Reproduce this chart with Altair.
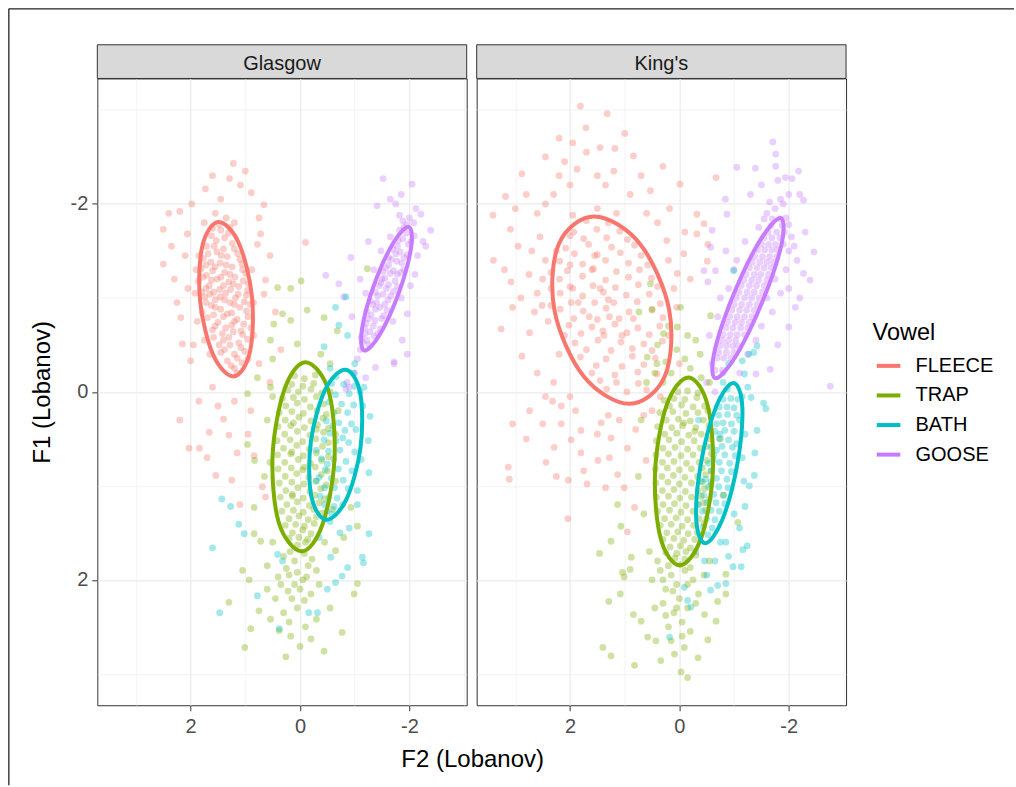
import altair as alt
import pandas as pd

CITIES = ["Glasgow", "King's"]
VOWELS = ["FLEECE", "TRAP", "BATH", "GOOSE"]
COLORS = ["#F8766D", "#7CAE00", "#00BFC4", "#C77CFF"]
AXIS_VALUES = [-3, -2, -1, 0, 1, 2, 3]
X_DOMAIN = [-3.048, 3.707]
Y_DOMAIN = [-3.335, 3.335]

# ---------------- points (F2, F1) ----------------
GLA_FLEECE = [
    (1.45,-1.72),(1.62,-1.66),(1.31,-1.69),(1.24,-1.58),(1.53,-1.61),(1.71,-1.55),(1.40,-1.52),(1.14,-1.47),
    (1.33,-1.44),(1.52,-1.49),(1.77,-1.42),(1.63,-1.38),(1.06,-1.36),(1.24,-1.33),(1.46,-1.37),(1.60,-1.29),
    (1.81,-1.31),(0.99,-1.26),(1.19,-1.22),(1.38,-1.27),(1.52,-1.20),(1.71,-1.24),(1.86,-1.18),(0.94,-1.15),
    (1.12,-1.12),(1.30,-1.17),(1.47,-1.09),(1.66,-1.13),(1.80,-1.06),(0.98,-1.03),(1.18,-1.00),(1.36,-1.05),
    (1.55,-0.98),(1.74,-1.01),(0.91,-0.93),(1.10,-0.90),(1.28,-0.95),(1.45,-0.88),(1.62,-0.92),(1.79,-0.85),
    (0.95,-0.80),(1.15,-0.77),(1.33,-0.83),(1.50,-0.74),(1.69,-0.79),(0.90,-0.68),(1.08,-0.65),(1.25,-0.71),
    (1.42,-0.62),(1.60,-0.66),(0.96,-0.56),(1.12,-0.52),(1.30,-0.58),(1.48,-0.50),(1.01,-0.43),(1.20,-0.40),
    (1.38,-0.45),(1.06,-0.31),(1.26,-0.28),(1.15,-0.20),(1.35,-1.85),(1.55,-1.90),(1.20,-1.80),(1.75,-1.80),
    (1.22,-2.43),(1.29,-2.27),(1.09,-2.20),(1.73,-2.16),(0.89,-2.12),(0.66,-1.99),(2.50,-1.73),(2.20,-1.92),
    (2.50,-1.36),(2.06,-1.68),(0.72,-1.68),(0.78,-1.57),(-0.10,-1.59),(0.63,-1.19),(0.66,-1.04),(2.15,-0.51),
    (2.18,-0.79),(2.00,-0.33),(2.03,0.60),(1.84,0.60),(1.54,0.89),(1.25,0.94),(1.10,1.20),(1.66,0.43),
    (1.40,0.29),(1.30,0.46),(0.84,0.68),(0.69,1.01),(0.63,1.12),(1.98,-2.00),(1.45,-2.05),(2.30,-1.20),
    (2.05,-1.10),(1.95,-0.50),(0.75,-0.30),(0.55,-0.10),(1.60,-0.05),(1.85,0.10),(0.90,0.20),(1.20,0.10),
]
GLA_FLEECE_MORE = [
    (1.38,-1.64),(1.57,-1.55),(1.20,-1.52),(1.44,-1.45),(1.68,-1.47),(1.10,-1.41),(1.35,-1.35),(1.55,-1.33),
    (1.72,-1.35),(1.05,-1.30),(1.28,-1.25),(1.45,-1.22),(1.62,-1.19),(1.78,-1.22),(1.04,-1.18),(1.22,-1.15),
    (1.40,-1.13),(1.58,-1.06),(1.72,-1.10),(0.96,-1.08),(1.13,-1.04),(1.27,-1.09),(1.46,-1.01),(1.65,-1.04),
    (1.02,-0.96),(1.20,-0.93),(1.38,-0.98),(1.55,-0.90),(1.72,-0.95),(0.98,-0.86),(1.25,-0.84),(1.40,-0.80),
    (1.58,-0.82),(1.03,-0.72),(1.20,-0.75),(1.36,-0.68),(1.55,-0.70),(1.05,-0.61),(1.22,-0.64),(1.40,-0.55),
    (1.58,-0.58),(1.08,-0.47),(1.28,-0.50),(1.45,-0.42),(1.15,-0.36),(1.33,-0.33),(1.20,-0.25),(1.48,-1.78),
    (1.28,-1.75),(1.60,-1.74),(1.85,-1.45),(1.90,-1.30),(1.92,-1.05),(1.88,-0.75),(0.88,-1.30),(0.85,-0.95),
    (0.85,-0.60),(1.75,-0.55),(1.65,-0.40),(0.95,-0.35),(2.35,-1.55),(2.25,-0.95),(2.10,-1.45),(0.75,-1.85),
    (0.55,-1.45),(0.45,-0.85),(0.35,-0.45),(2.40,-1.90),(1.00,-2.35),(1.60,-2.30),(1.15,0.65),(1.70,0.70),
    (0.95,0.45),(2.20,0.30),(1.50,0.15),
]
GLA_TRAP = [
    (0.10,-0.17),(-0.08,-0.14),(-0.28,-0.18),(0.22,-0.02),(0.03,0.00),(-0.20,-0.03),(-0.40,0.01),
    (0.26,0.15),(0.05,0.12),(-0.19,0.16),(-0.43,0.13),(0.27,0.30),(0.02,0.27),(-0.20,0.31),(-0.42,0.28),
    (0.12,0.33),(0.28,0.45),(0.05,0.42),(-0.18,0.46),(-0.43,0.43),(-0.30,0.40),(0.30,0.60),(0.06,0.57),
    (-0.17,0.61),(-0.41,0.58),(0.15,0.64),(0.28,0.75),(0.03,0.72),(-0.19,0.76),(-0.40,0.73),(-0.08,0.80),
    (0.27,0.90),(0.06,0.87),(-0.16,0.91),(-0.39,0.88),(0.26,1.05),(0.04,1.02),(-0.18,1.06),(-0.38,1.03),
    (0.14,1.09),(0.24,1.20),(0.05,1.17),(-0.17,1.21),(-0.35,1.18),(0.20,1.35),(0.02,1.32),(-0.15,1.36),
    (-0.30,1.33),(0.14,1.50),(-0.05,1.47),(-0.20,1.51),(0.05,1.63),(-0.10,1.60),(0.10,1.80),(-0.15,1.85),
    (0.20,1.95),(-0.05,2.00),(0.30,1.75),(-0.30,1.90),(0.00,2.10),(0.15,2.20),(-0.20,2.15),(0.35,2.05),
    (0.41,-1.11),(-0.02,-1.18),(-1.23,-1.31),(0.17,-1.10),(0.32,-0.83),(0.17,-0.76),(-0.13,-0.87),(-0.44,-0.79),
    (-0.68,-0.65),(0.48,-0.72),(0.54,-0.55),(0.05,-0.51),(-0.38,-0.40),(0.78,-0.15),(0.96,0.02),(0.54,-0.05),
    (0.84,1.23),(0.83,0.73),(0.96,0.56),(0.84,1.51),(0.72,1.59),(-1.05,1.43),(-0.93,1.23),(-0.80,1.55),
    (-0.65,1.69),(0.26,2.82),(1.01,2.72),(-0.44,2.76),(0.00,2.71),(-0.77,2.56),(0.90,2.52),(1.30,2.24),
    (0.93,2.00),(1.05,1.90),(-1.05,2.04),(-0.99,2.15),(0.75,2.33),(0.54,2.42),(0.17,2.60),(-0.20,2.63),
    (0.38,2.54),(0.60,0.30),(0.65,0.90),(-0.70,0.20),(-0.65,0.95),(0.50,-0.35),(-0.55,-0.30),(0.60,1.85),
    (-0.55,2.30),(0.30,2.35),
]
GLA_TRAP_MORE = [
    (0.15,-0.08),(-0.05,-0.06),(-0.25,-0.09),(0.32,0.07),(0.12,0.06),(-0.08,0.08),(-0.30,0.05),
    (0.38,0.22),(0.15,0.21),(-0.06,0.23),(-0.31,0.20),(-0.48,0.24),(0.40,0.37),(0.17,0.36),(-0.08,0.38),
    (-0.32,0.35),(-0.52,0.39),(0.42,0.52),(0.18,0.51),(-0.05,0.53),(-0.29,0.50),(-0.52,0.54),(0.41,0.67),
    (0.17,0.66),(-0.06,0.68),(-0.30,0.65),(-0.52,0.69),(0.40,0.82),(0.16,0.81),(-0.05,0.83),(-0.28,0.80),
    (-0.50,0.84),(0.38,0.97),(0.15,0.96),(-0.07,0.98),(-0.29,0.95),(-0.48,0.99),(0.36,1.12),(0.14,1.11),
    (-0.06,1.13),(-0.27,1.10),(-0.45,1.14),(0.33,1.27),(0.12,1.26),(-0.06,1.28),(-0.25,1.25),(-0.40,1.29),
    (0.27,1.42),(0.08,1.41),(-0.08,1.43),(-0.26,1.40),(0.20,1.56),(0.02,1.55),(-0.14,1.57),(0.18,1.70),
    (-0.08,1.72),(-0.22,1.78),(0.25,1.88),(0.05,1.92),(-0.12,1.97),(0.40,1.97),(0.10,2.05),(-0.35,2.05),
    (0.22,2.12),(-0.08,2.22),(0.45,2.20),(0.05,2.30),(-0.30,2.42),(0.20,2.45),(-0.10,2.50),(0.60,2.10),
    (-0.45,1.60),(0.50,1.60),(-0.60,1.25),(0.55,0.75),(-0.65,0.45),(0.50,0.05),(-0.55,0.00),
]
GLA_BATH = [
    (-0.58,-0.09),(-0.80,-0.08),(-1.00,-0.06),(-0.53,0.11),(-0.76,0.13),(-0.98,0.14),(-0.48,0.31),(-0.71,0.33),
    (-0.94,0.34),(-0.60,0.36),(-0.44,0.51),(-0.66,0.52),(-0.89,0.54),(-0.78,0.49),(-0.39,0.71),(-0.62,0.72),
    (-0.84,0.74),(-0.50,0.77),(-0.35,0.91),(-0.57,0.92),(-0.79,0.94),(-0.37,1.11),(-0.53,1.12),(-0.68,1.13),
    (-0.49,1.27),(-0.58,1.30),
    (1.43,1.14),(1.27,1.22),(1.12,1.41),(1.02,1.51),(1.60,1.66),(1.47,2.35),(0.78,2.17),(0.38,2.52),
    (-0.16,2.35),(-0.32,2.35),(-0.50,2.10),(-0.65,2.03),(-0.77,1.96),(-0.87,1.87),(-1.14,1.76),(-1.16,1.82),
    (-1.26,1.51),(-1.05,1.20),(-1.26,0.86),(-1.25,0.52),(-1.28,0.26),(-1.17,-0.05),(0.41,1.73),(0.32,1.80),
    (-0.56,1.76),(-0.73,1.50),(-0.84,-1.01),(-0.65,-0.90),(-0.71,-0.71),(-0.87,-0.60),(-0.44,-0.48),(-1.10,0.00),
    (-1.00,-0.30),(-0.35,1.55),(-0.90,1.45),
]
GLA_BATH_MORE = [
    (-0.66,-0.16),(-0.90,0.02),(-0.65,0.03),(-0.87,0.22),(-0.62,0.22),(-1.02,0.40),(-0.82,0.41),(-0.55,0.44),
    (-1.00,0.64),(-0.73,0.62),(-0.52,0.63),(-0.95,0.84),(-0.70,0.82),(-0.46,0.83),(-0.88,1.03),(-0.63,1.02),
    (-0.45,1.02),(-0.78,1.20),(-0.45,1.20),(-0.62,1.22),(-0.55,1.38),(-1.15,0.15),(-1.12,0.72),(-0.30,0.95),
    (-0.30,0.62),(-1.05,1.05),(-0.98,-0.20),(-0.55,-0.25),
]
GLA_GOOSE = [
    (-1.82,-1.72),(-1.95,-1.69),(-2.09,-1.66),(-1.80,-1.61),(-1.98,-1.57),(-1.70,-1.52),(-1.83,-1.49),(-1.96,-1.46),
    (-1.67,-1.41),(-1.86,-1.37),(-1.77,-1.39),(-1.57,-1.32),(-1.71,-1.29),(-1.84,-1.27),(-1.55,-1.21),(-1.74,-1.18),
    (-1.45,-1.13),(-1.58,-1.10),(-1.71,-1.07),(-1.42,-1.02),(-1.61,-0.98),(-1.33,-0.93),(-1.46,-0.90),(-1.59,-0.87),
    (-1.30,-0.82),(-1.49,-0.78),(-1.21,-0.73),(-1.34,-0.70),(-1.47,-0.67),(-1.19,-0.62),(-1.36,-0.59),(-1.26,-0.50),
    (-1.15,-0.53),(-1.62,-1.35),(-1.50,-1.20),(-1.78,-1.55),(-1.40,-0.95),(-1.25,-0.78),(-1.90,-1.75),(-2.00,-1.85),
    (-1.88,-1.82),(-1.10,-0.45),(-1.05,-0.35),
    (-1.52,-2.27),(-2.05,-2.21),(-2.21,-1.89),(-2.39,-1.72),(-1.41,-1.98),(-0.93,-1.43),(-0.47,-1.24),(-0.71,-1.15),
    (-0.80,-1.01),(-2.02,-1.13),(-1.96,-0.83),(-1.87,-0.55),(-1.96,-0.40),(-1.72,-0.32),(-1.38,-0.26),(-1.72,-0.30),
    (-0.84,-0.03),(-0.86,-0.10),(-0.90,-0.05),(-1.65,-2.05),(-1.85,-2.10),(-2.25,-1.60),(-2.15,-1.45),(-1.25,-1.60),
    (-1.10,-1.20),(-0.95,-0.80),(-1.00,-0.20),(-1.20,-0.15),
]
GLA_GOOSE_MORE = [
    (-1.88,-1.63),(-2.03,-1.60),(-1.75,-1.47),(-1.90,-1.43),(-1.62,-1.43),(-1.52,-1.28),(-1.78,-1.25),(-1.65,-1.26),
    (-1.48,-1.16),(-1.62,-1.14),(-1.78,-1.12),(-1.38,-1.06),(-1.52,-1.04),(-1.66,-1.02),(-1.28,-0.97),(-1.55,-0.93),
    (-1.38,-0.88),(-1.53,-0.81),(-1.22,-0.86),(-1.37,-0.76),(-1.18,-0.68),(-1.28,-0.64),(-1.42,-0.62),(-1.12,-0.58),
    (-1.22,-0.55),(-1.95,-1.78),(-2.08,-1.80),(-1.82,-1.88),(-2.12,-1.95),(-1.75,-2.00),(-2.30,-1.55),(-1.65,-1.65),
    (-1.48,-1.50),(-1.35,-1.30),(-1.20,-1.05),(-1.70,-0.75),(-1.85,-1.00),(-1.90,-1.30),(-2.10,-1.25),
]
KIN_FLEECE = [
    (1.93,-1.70),(1.51,-1.73),(1.09,-1.71),(2.08,-1.53),(1.66,-1.57),(1.24,-1.54),(0.82,-1.56),(2.19,-1.39),
    (1.77,-1.36),(1.35,-1.40),(0.93,-1.37),(0.58,-1.35),(2.19,-1.20),(1.77,-1.23),(1.35,-1.19),(0.93,-1.22),
    (0.51,-1.21),(2.18,-1.05),(1.77,-1.02),(1.39,-1.06),(0.97,-1.03),(0.55,-1.04),(2.18,-0.88),(1.76,-0.86),
    (1.34,-0.89),(0.92,-0.85),(0.50,-0.87),(1.55,-0.95),(1.10,-0.78),(2.02,-0.71),(1.60,-0.69),(1.18,-0.72),
    (0.76,-0.68),(0.36,-0.70),(1.91,-0.52),(1.49,-0.55),(1.07,-0.53),(0.65,-0.51),(0.31,-0.54),(1.81,-0.37),
    (1.34,-0.35),(0.86,-0.38),(0.44,-0.36),(1.60,-0.20),(1.18,-0.18),(0.76,-0.21),(0.41,-0.19),(1.33,-0.03),
    (0.96,0.00),(0.60,-0.02),(1.60,-1.30),(1.95,-1.10),(1.45,-1.10),(1.85,-0.95),(1.65,-0.80),(1.40,-0.65),
    (2.00,-1.35),(1.55,-1.45),(1.20,-0.95),(1.05,-0.60),
    (1.81,-3.04),(1.32,-2.96),(1.71,-2.81),(1.45,-2.60),(1.18,-2.59),(2.45,-2.50),(0.84,-2.51),(2.88,-2.32),
    (1.87,-2.37),(1.20,-2.35),(0.53,-2.14),(-0.01,-2.21),(-0.67,-2.28),(3.18,-2.08),(3.41,-1.88),(3.09,-1.73),
    (3.40,-1.40),(3.08,-1.17),(3.26,-0.67),(2.88,-0.38),(2.74,-0.63),(2.51,-0.92),(0.18,-1.95),(-0.32,-1.68),
    (-0.52,-1.57),(-0.51,-1.39),(-0.45,-1.79),(-0.32,-1.89),(-0.08,-1.47),(0.04,-1.26),(0.23,-1.61),
    (3.13,0.80),(3.11,0.93),(3.05,0.34),(2.74,0.20),(2.50,0.34),(2.44,0.75),(2.29,0.59),(2.16,0.34),
    (2.03,0.94),(2.04,1.35),(1.98,0.51),(1.75,0.84),(1.69,0.98),(1.49,0.73),(1.35,1.02),(1.28,0.70),
    (1.13,0.88),(1.01,1.02),(0.95,1.49),(1.25,0.49),(1.43,0.33),(1.80,0.41),(2.32,0.10),(2.16,0.15),
    (0.82,1.23),(0.61,0.73),(2.60,-1.90),(2.30,-2.10),(2.70,-1.50),(2.50,-1.20),(2.90,-1.00),(2.60,-0.20),
    (2.30,-0.10),(2.00,-2.20),(1.50,-2.30),(0.90,-2.10),(0.40,-1.80),(0.10,-1.10),(-0.20,-1.20),(0.20,-0.60),
    (0.00,-0.30),(0.50,0.20),(0.80,0.40),(1.10,0.30),(1.90,0.20),(2.20,-0.40),(3.00,-1.95),(2.20,-2.70),
    (1.00,-2.75),(0.30,-2.40),(2.80,-2.10),(3.20,-1.30),
]
KIN_FLEECE_MORE = [
    (1.75,-1.63),(1.33,-1.64),(0.95,-1.62),(2.00,-1.66),(1.92,-1.47),(1.50,-1.46),(1.08,-1.48),(0.70,-1.45),
    (2.25,-1.50),(2.05,-1.29),(1.57,-1.31),(1.15,-1.28),(0.73,-1.30),(2.35,-1.27),(2.00,-1.12),(1.58,-1.13),
    (1.17,-1.11),(0.75,-1.14),(0.40,-1.12),(2.35,-1.10),(1.98,-0.95),(1.30,-0.98),(0.77,-0.96),(0.35,-0.94),
    (2.35,-0.92),(1.93,-0.78),(1.50,-0.77),(1.28,-0.80),(0.84,-0.78),(0.30,-0.79),(1.80,-0.62),(1.38,-0.60),
    (0.96,-0.63),(0.55,-0.61),(2.10,-0.60),(1.70,-0.45),(1.25,-0.44),(0.86,-0.46),(0.50,-0.44),(1.52,-0.28),
    (1.05,-0.27),(0.65,-0.29),(1.15,-0.10),(0.75,-0.09),(1.45,-0.12),(1.30,-1.80),(1.70,-1.82),(1.50,-1.95),
    (1.95,-1.88),(1.15,-1.90),(2.55,-1.65),(2.45,-1.40),(2.60,-1.05),(2.75,-1.25),(2.40,-0.75),(2.65,-0.85),
    (2.45,-2.00),(2.20,-2.30),(1.70,-2.55),(1.35,-2.20),(0.70,-2.30),(0.60,-1.90),(0.20,-1.40),(0.05,-0.90),
    (-0.10,-1.70),(2.95,-1.55),(3.05,-0.90),(2.10,-2.45),(1.95,-2.65),(0.65,0.25),(0.35,0.05),(1.50,0.45),
    (2.00,0.05),(2.45,0.05),(2.80,0.50),(1.80,0.65),(2.25,0.90),(1.30,0.25),(0.95,0.60),
]
KIN_TRAP = [
    (0.03,0.00),(-0.15,-0.01),(-0.34,0.01),(0.18,0.15),(-0.04,0.14),(-0.25,0.16),(-0.46,0.15),(0.24,0.30),
    (0.02,0.29),(-0.20,0.31),(-0.44,0.30),(-0.08,0.33),(0.27,0.45),(0.05,0.44),(-0.17,0.46),(-0.40,0.45),
    (-0.28,0.42),(0.30,0.60),(0.08,0.59),(-0.15,0.61),(-0.38,0.60),(-0.50,0.58),(0.31,0.75),(0.10,0.74),
    (-0.13,0.76),(-0.36,0.75),(-0.50,0.73),(0.32,0.90),(0.11,0.89),(-0.10,0.91),(-0.33,0.90),(-0.48,0.88),
    (0.31,1.05),(0.10,1.04),(-0.11,1.06),(-0.34,1.05),(-0.46,1.03),(0.30,1.20),(0.09,1.19),(-0.12,1.21),
    (-0.33,1.20),(-0.44,1.18),(0.27,1.35),(0.06,1.34),(-0.15,1.36),(-0.36,1.35),(0.23,1.50),(0.03,1.49),
    (-0.16,1.51),(-0.33,1.50),(0.17,1.65),(-0.02,1.64),(-0.20,1.66),(0.08,1.77),(-0.10,1.78),
    (0.15,1.95),(-0.10,1.90),(0.05,2.05),(-0.25,2.00),(0.25,2.10),(0.00,2.20),(-0.15,2.30),(0.10,2.35),
    (0.35,1.90),(-0.35,2.15),(0.20,2.50),(-0.05,2.45),(0.15,-0.20),(-0.20,-0.25),(0.30,-0.10),(-0.40,-0.15),
    (0.40,-0.50),(0.05,-0.45),(-0.30,-0.55),
    (0.53,-1.15),(0.50,-0.88),(0.74,-0.85),(-0.02,-0.90),(0.29,-0.62),(0.04,-0.69),(-0.57,-0.81),(-0.38,-0.40),
    (0.59,-0.37),(0.41,-0.30),(-0.15,3.04),(-0.03,2.98),(0.82,2.91),(0.34,2.86),(0.09,2.79),(-0.34,2.83),
    (-0.09,2.72),(0.43,2.65),(0.58,2.61),(-0.52,2.64),(-0.67,2.44),(1.40,2.72),(1.25,2.81),(1.29,2.23),
    (1.08,2.15),(0.84,2.37),(0.70,2.44),(1.01,1.97),(1.04,1.92),(1.13,1.20),(1.07,1.43),(1.25,1.59),
    (1.46,1.72),(0.90,1.89),(0.88,1.76),(-0.85,1.94),(-0.85,2.15),(-0.70,2.23),(-0.46,2.37),(-1.07,1.39),
    (0.70,0.30),(0.75,0.90),(0.65,1.30),(-0.75,0.50),(-0.80,1.10),(0.50,2.00),(-0.55,1.80),(0.60,-0.10),
]
KIN_TRAP_MORE = [
    (0.10,0.07),(-0.10,0.08),(-0.32,0.06),(0.28,0.09),(0.36,0.22),(0.12,0.21),(-0.12,0.23),(-0.34,0.22),
    (-0.52,0.20),(0.40,0.37),(0.14,0.38),(-0.06,0.36),(-0.30,0.38),(-0.54,0.36),(0.42,0.52),(0.19,0.51),
    (-0.04,0.53),(-0.27,0.52),(-0.55,0.50),(0.43,0.67),(0.20,0.66),(-0.03,0.68),(-0.25,0.67),(-0.58,0.66),
    (0.44,0.82),(0.22,0.81),(0.00,0.83),(-0.22,0.82),(-0.42,0.81),(-0.58,0.84),(0.43,0.97),(0.21,0.96),
    (0.00,0.98),(-0.22,0.97),(-0.42,0.96),(-0.58,0.99),(0.42,1.12),(0.20,1.11),(-0.01,1.13),(-0.22,1.12),
    (-0.40,1.11),(-0.55,1.14),(0.40,1.27),(0.18,1.26),(-0.03,1.28),(-0.25,1.27),(-0.48,1.26),(0.35,1.42),
    (0.15,1.41),(-0.05,1.43),(-0.26,1.42),(-0.45,1.40),(0.30,1.57),(0.10,1.56),(-0.08,1.58),(-0.28,1.57),
    (0.25,1.71),(0.05,1.72),(-0.12,1.70),(-0.30,1.74),(0.20,1.85),(-0.02,1.84),(-0.20,1.87),(0.40,1.80),
    (0.30,2.00),(-0.15,2.05),(0.12,2.12),(-0.30,2.25),(0.30,2.25),(0.05,2.30),(-0.05,2.60),(0.25,2.38),
    (-0.45,1.95),(0.55,1.70),(0.45,2.30),(-0.20,2.55),(0.15,2.65),(0.25,-0.32),(-0.10,-0.35),(0.45,-0.20),
    (-0.55,-0.10),(0.20,-0.70),(-0.15,-0.60),
]
KIN_BATH = [
    (-0.80,0.08),(-0.94,0.07),(-1.07,0.08),(-0.72,0.25),(-0.88,0.24),(-1.05,0.25),(-0.65,0.42),(-0.83,0.41),
    (-1.00,0.42),(-0.74,0.45),(-0.58,0.59),(-0.78,0.58),(-0.97,0.59),(-0.68,0.62),(-0.53,0.76),(-0.73,0.75),
    (-0.92,0.76),(-0.62,0.72),(-0.48,0.93),(-0.68,0.92),(-0.87,0.93),(-0.58,0.96),(-0.44,1.10),(-0.63,1.09),
    (-0.81,1.10),(-0.42,1.27),(-0.58,1.26),(-0.73,1.27),(-0.44,1.44),(-0.60,1.45),
    (-1.54,0.12),(-1.58,0.18),(-1.42,0.41),(-1.38,0.65),(-1.37,0.89),(-1.28,1.00),(-1.20,1.22),(-1.24,1.64),
    (-1.16,1.68),(-0.98,1.86),(-1.13,1.86),(-0.85,2.04),(-0.70,2.06),(-0.57,2.11),(-0.15,2.22),(-0.21,2.29),
    (0.18,2.61),(-0.09,2.08),(-0.46,1.80),(-0.99,-1.29),(-1.42,-0.49),(-1.36,-0.42),(-1.15,-0.33),(-1.27,-0.40),
    (-1.19,-0.19),(-1.25,-0.05),(-1.31,0.06),(-0.90,-0.30),(-0.80,-0.10),(-1.10,0.30),(-1.15,0.70),(-1.10,1.45),
    (-0.30,1.70),(-0.35,0.30),(-0.85,1.60),(-0.50,1.95),
]
KIN_BATH_MORE = [
    (-0.87,0.16),(-1.00,0.17),(-0.73,0.16),(-0.80,0.33),(-0.95,0.34),(-0.68,0.34),(-0.73,0.50),(-0.90,0.51),
    (-1.05,0.55),(-0.63,0.67),(-0.83,0.67),(-1.02,0.68),(-0.58,0.84),(-0.77,0.84),(-0.95,0.85),(-0.53,1.01),
    (-0.72,1.01),(-0.89,1.02),(-0.50,1.18),(-0.67,1.18),(-0.83,1.19),(-0.50,1.35),(-0.65,1.36),(-0.52,1.52),
    (-0.88,-0.03),(-1.15,0.05),(-1.20,0.45),(-1.18,0.95),(-0.35,1.20),(-0.40,0.95),(-1.00,1.30),(-0.75,1.60),
    (-0.65,1.80),(-0.90,1.75),
]
KIN_GOOSE = [
    (-1.68,-1.77),(-1.88,-1.77),(-1.55,-1.64),(-1.69,-1.64),(-1.84,-1.64),(-1.43,-1.51),(-1.56,-1.51),(-1.69,-1.51),
    (-1.80,-1.51),(-1.33,-1.38),(-1.47,-1.38),(-1.60,-1.38),(-1.72,-1.38),(-1.22,-1.25),(-1.37,-1.25),(-1.49,-1.25),
    (-1.63,-1.25),(-1.13,-1.13),(-1.28,-1.13),(-1.41,-1.13),(-1.55,-1.13),(-1.04,-1.00),(-1.19,-1.00),(-1.32,-1.00),
    (-1.46,-1.00),(-0.96,-0.87),(-1.10,-0.87),(-1.23,-0.87),(-1.37,-0.87),(-0.88,-0.74),(-1.02,-0.74),(-1.14,-0.74),
    (-1.28,-0.74),(-0.80,-0.61),(-0.93,-0.61),(-1.06,-0.61),(-1.19,-0.61),(-0.74,-0.49),(-0.86,-0.49),(-0.98,-0.49),
    (-1.08,-0.49),(-0.69,-0.36),(-0.81,-0.36),(-0.94,-0.36),(-0.65,-0.23),(-0.79,-0.23),
    (-1.60,-1.90),(-1.75,-1.95),(-1.95,-1.85),(-1.90,-2.00),(-1.45,-1.75),(-2.05,-1.65),(-2.00,-1.50),(-1.20,-1.60),
    (-1.05,-1.40),(-1.75,-1.20),(-1.60,-1.00),(-0.90,-1.10),(-1.50,-0.70),
    (-1.71,-2.66),(-1.76,-2.53),(-1.76,-2.40),(-2.18,-2.35),(-1.05,-2.39),(-1.39,-2.38),(-1.94,-2.28),(-2.06,-2.27),
    (-2.27,-2.04),(-2.46,-1.49),(-2.39,-1.19),(-2.27,-1.26),(-2.12,-0.90),(-2.00,-0.69),(-1.66,-0.24),(-0.84,-2.05),
    (-0.87,-1.89),(-0.60,-1.72),(-0.57,-1.54),(-0.66,-1.29),(-0.45,-1.29),(-0.52,-1.17),(-1.40,-0.19),(-2.76,-0.06),
    (-2.20,-2.10),(-1.30,-2.10),(-2.30,-1.70),(-0.70,-0.80),(-0.55,-0.60),(-0.50,-0.10),(-0.65,0.00),(-1.80,-0.50),
    (-2.20,-1.00),(-1.10,-0.20),
]
KIN_GOOSE_MORE = [
    (-1.62,-1.70),(-1.78,-1.70),(-1.92,-1.70),(-1.50,-1.57),(-1.63,-1.57),(-1.76,-1.57),(-1.90,-1.57),(-1.38,-1.44),
    (-1.52,-1.44),(-1.65,-1.44),(-1.78,-1.44),(-1.28,-1.32),(-1.42,-1.32),(-1.55,-1.32),(-1.68,-1.32),(-1.18,-1.19),
    (-1.32,-1.19),(-1.45,-1.19),(-1.60,-1.19),(-1.09,-1.06),(-1.24,-1.06),(-1.37,-1.06),(-1.52,-1.06),(-1.00,-0.93),
    (-1.14,-0.93),(-1.28,-0.93),(-1.42,-0.93),(-0.92,-0.80),(-1.06,-0.80),(-1.19,-0.80),(-1.33,-0.80),(-0.85,-0.68),
    (-0.98,-0.68),(-1.12,-0.68),(-1.25,-0.68),(-0.78,-0.55),(-0.90,-0.55),(-1.03,-0.55),(-0.72,-0.42),(-0.86,-0.42),
    (-1.00,-0.42),(-1.55,-1.84),(-1.70,-1.84),(-1.85,-1.84),(-2.00,-1.78),(-1.65,-2.02),(-1.85,-2.05),(-1.50,-2.20),
    (-2.00,-2.10),(-1.80,-2.25),(-2.10,-1.55),(-2.15,-1.40),(-1.95,-1.30),(-1.85,-1.05),(-2.00,-1.10),(-1.70,-0.85),
    (-1.40,-0.55),(-1.25,-0.40),(-1.00,-1.30),(-0.85,-1.50),(-0.75,-1.00),(-0.60,-0.30),(-0.80,-0.20),
]

# ---------------- 95% ellipse outlines (8 points each) ----------------
GLA_FLEECE_ELL = [(1.207,-0.165),(0.916,-0.426),(0.879,-1.015),(1.122,-1.587),(1.499,-1.807),(1.788,-1.547),(1.826,-0.957),(1.581,-0.385)]
GLA_TRAP_ELL = [(-0.026,1.697),(-0.411,1.412),(-0.631,0.704),(-0.521,-0.012),(-0.106,-0.316),(0.280,-0.034),(0.501,0.674),(0.389,1.390)]
GLA_BATH_ELL = [(-0.470,1.360),(-0.843,1.150),(-1.106,0.594),(-1.102,0.018),(-0.837,-0.235),(-0.463,-0.026),(-0.199,0.525),(-0.203,1.101)]
GLA_GOOSE_ELL = [(-1.170,-0.441),(-1.448,-0.599),(-1.804,-1.049),(-2.029,-1.527),(-1.993,-1.753),(-1.715,-1.595),(-1.358,-1.145),(-1.133,-0.667)]
KIN_FLEECE_ELL = [(0.916,0.127),(0.267,-0.166),(0.186,-0.870),(0.720,-1.574),(1.556,-1.867),(2.205,-1.574),(2.285,-0.870),(1.751,-0.166)]
KIN_TRAP_ELL = [(-0.004,1.846),(-0.400,1.553),(-0.612,0.846),(-0.514,0.138),(-0.165,-0.154),(0.232,0.138),(0.444,0.846),(0.346,1.553)]
KIN_BATH_ELL = [(-0.472,1.612),(-0.784,1.362),(-1.061,0.764),(-1.150,0.154),(-0.987,-0.094),(-0.675,0.154),(-0.393,0.764),(-0.309,1.362)]
KIN_GOOSE_ELL = [(-0.667,-0.144),(-1.046,-0.393),(-1.543,-0.995),(-1.877,-1.596),(-1.841,-1.851),(-1.459,-1.596),(-0.962,-0.995),(-0.629,-0.393)]

POINTS = {
    "Glasgow": {"FLEECE": GLA_FLEECE + GLA_FLEECE_MORE, "TRAP": GLA_TRAP + GLA_TRAP_MORE,
                "BATH": GLA_BATH + GLA_BATH_MORE, "GOOSE": GLA_GOOSE + GLA_GOOSE_MORE},
    "King's": {"FLEECE": KIN_FLEECE + KIN_FLEECE_MORE, "TRAP": KIN_TRAP + KIN_TRAP_MORE,
               "BATH": KIN_BATH + KIN_BATH_MORE, "GOOSE": KIN_GOOSE + KIN_GOOSE_MORE},
}
ELLIPSES = {
    "Glasgow": {"FLEECE": GLA_FLEECE_ELL, "TRAP": GLA_TRAP_ELL, "BATH": GLA_BATH_ELL, "GOOSE": GLA_GOOSE_ELL},
    "King's": {"FLEECE": KIN_FLEECE_ELL, "TRAP": KIN_TRAP_ELL, "BATH": KIN_BATH_ELL, "GOOSE": KIN_GOOSE_ELL},
}

pt_rows, el_rows = [], []
for city in CITIES:
    for v in ["FLEECE", "GOOSE", "TRAP", "BATH"]:
        for x, y in POINTS[city][v]:
            pt_rows.append({"city": city, "vowel": v, "f2": x, "f1": y})
    for v in VOWELS:
        for i, (x, y) in enumerate(ELLIPSES[city][v]):
            el_rows.append({"city": city, "vowel": v, "i": i, "f2": x, "f1": y})
points_df = pd.DataFrame(pt_rows)
ell_df = pd.DataFrame(el_rows)

FONT = "Liberation Sans"
W, H = 369.5, 627
ODD = "datum.value % 2 !== 0"


def make_axis(show, title=None, **kw):
    args = dict(
        values=AXIS_VALUES,
        grid=True,
        gridColor="#EBEBEB",
        gridWidth={"condition": {"test": ODD, "value": 0.6}, "value": 1.2},
        domain=False,
    )
    if show:
        args.update(
            labelExpr="datum.value % 2 === 0 ? '' + datum.value : ''",
            tickOpacity={"condition": {"test": ODD, "value": 0}, "value": 1},
            ticks=True,
            labels=True,
        )
    else:
        args.update(ticks=False, labels=False)
    args["title"] = title
    args.update(kw)
    return alt.Axis(**args)


legend = alt.Legend(
    title="Vowel", orient="none", legendX=396, legendY=243,
    symbolType="stroke", symbolStrokeWidth=4, symbolSize=560, symbolOpacity=1,
    symbolOffset=2, labelOffset=13, rowPadding=5.6, titlePadding=7,
    titleFontSize=23.5, titleFont=FONT, titleFontWeight="normal", titleColor="black",
    labelFontSize=20, labelFont=FONT, labelColor="black", padding=0,
)


def panel(city, first):
    xkw = {"titleX": 375, "titleY": 61.3, "titleBaseline": "alphabetic", "titleAlign": "center"} if first else {}
    xaxis = make_axis(True, "F2 (Lobanov)" if first else None, **xkw)
    yaxis = make_axis(first, "F1 (Lobanov)" if first else None)
    x = alt.X("f2:Q", scale=alt.Scale(domain=X_DOMAIN, reverse=True, nice=False, zero=False), axis=xaxis)
    y = alt.Y("f1:Q", scale=alt.Scale(domain=Y_DOMAIN, reverse=True, nice=False, zero=False), axis=yaxis)
    color = alt.Color("vowel:N", scale=alt.Scale(domain=VOWELS, range=COLORS),
                      legend=None if first else legend)
    pts = alt.Chart(points_df[points_df.city == city]).mark_circle(size=46, opacity=0.36).encode(
        x=x, y=y, color=color)
    ell = alt.Chart(ell_df[ell_df.city == city]).mark_line(
        interpolate="cardinal-closed", strokeWidth=4).encode(
        x=x, y=y, color=color, order="i:Q", detail="vowel:N")
    sdf = pd.DataFrame({"city": [city]})
    strip = alt.Chart(sdf).mark_rect(fill="#D9D9D9", stroke="#333333", strokeWidth=1).encode(
        x=alt.value(0), x2=alt.value(W), y=alt.value(-33.7), y2=alt.value(0))
    strip_text = alt.Chart(sdf).mark_text(
        font=FONT, fontSize=20, color="#1A1A1A", align="center", baseline="alphabetic").encode(
        x=alt.value(W / 2), y=alt.value(-8.5), text="city:N")
    layers = [pts, ell, strip, strip_text]
    if first:
        frame_h = alt.Chart(sdf).mark_rule(color="#222222", strokeWidth=1.3).encode(
            x=alt.value(-88.5), x2=alt.value(917), y=alt.value(-69.7))
        frame_v = alt.Chart(sdf).mark_rule(color="#222222", strokeWidth=1.3).encode(
            x=alt.value(-88.5), y=alt.value(-69.7), y2=alt.value(707))
        layers += [frame_h, frame_v]
    return alt.layer(*layers).properties(width=W, height=H)


chart = alt.hconcat(panel("Glasgow", True), panel("King's", False), spacing=9.5, bounds="flush").resolve_scale(
    color="independent", x="independent", y="independent"
).configure_view(stroke="#333333", strokeWidth=1).configure_axis(
    labelFont=FONT, labelFontSize=20, labelColor="#4D4D4D", labelPadding=4,
    tickColor="#333333", tickSize=5.5, tickWidth=1,
    titleFont=FONT, titleFontSize=24, titleColor="black", titleFontWeight="normal",
).configure_axisX(labelPadding=6).configure_axisY(titlePadding=16).properties(
    padding={"left": 7.35, "top": 7.35, "right": 0, "bottom": 0}, background="white"
)

chart.save("out.html", embed_options={"renderer": "svg", "actions": False})
